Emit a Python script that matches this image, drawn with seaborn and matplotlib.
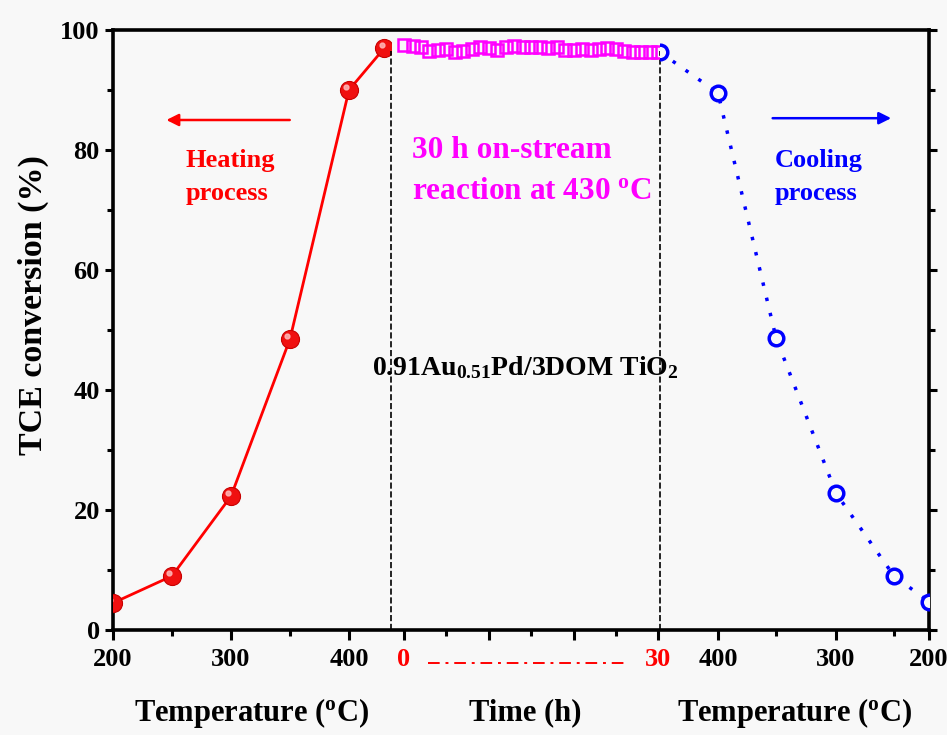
import numpy as np
import matplotlib
matplotlib.use("Agg")
import matplotlib.pyplot as plt
import matplotlib.transforms as mtransforms
import seaborn as sns

# heating ramp (light-off)
heat_temp = [200, 250, 300, 350, 400, 430]
heat_conv = [4.5, 9.0, 22.3, 48.5, 90.0, 97.0]

# 30 h on-stream at 430 C
time_h = list(range(0, 31))
time_conv = [97.5, 97.4, 97.2, 96.5, 96.7, 96.9, 96.4, 96.5, 96.8, 97.1,
             97.0, 96.6, 97.2, 97.3, 97.2, 97.1, 97.2, 97.0, 97.2, 96.7,
             96.6, 96.9, 96.6, 96.9, 97.0, 96.8, 96.5, 96.4, 96.3, 96.4, 96.3]

# cooling ramp
cool_temp = [430, 400, 350, 300, 250, 200]
cool_conv = [96.3, 89.5, 48.7, 22.8, 9.0, 4.7]

heat_ticks = [200, 300, 400]
time_ticks = [0, 30]
cool_ticks = [400, 300, 200]

sns.set_style("ticks")
plt.rcParams['font.family'] = ['Liberation Serif', 'DejaVu Serif']
plt.rcParams['font.weight'] = 'bold'
plt.rcParams['mathtext.fontset'] = 'custom'
plt.rcParams['mathtext.rm'] = 'Liberation Serif:bold'
plt.rcParams['mathtext.bf'] = 'Liberation Serif:bold'
plt.rcParams['mathtext.it'] = 'Liberation Serif:bold'
for key in ('text.color', 'axes.labelcolor', 'xtick.color', 'ytick.color', 'axes.edgecolor'):
    plt.rcParams[key] = 'black'

W, H = 947, 735
BG = '#f8f8f8'
fig = plt.figure(figsize=(W / 100, H / 100), dpi=100, facecolor=BG)


def rect(x0, x1):
    return [x0 / W, 1 - 630 / H, (x1 - x0) / W, 600 / H]


frame = fig.add_axes(rect(113, 929))
ax_h = fig.add_axes(rect(113, 391))
ax_t = fig.add_axes(rect(391, 660))
ax_c = fig.add_axes(rect(660, 929))

# frame: y axis and the box
frame.set_facecolor('none')
frame.set_ylim(0, 100)
frame.set_xticks([])
frame.set_yticks(range(0, 101, 20))
frame.set_yticks(range(10, 100, 20), minor=True)
frame.tick_params(axis='y', which='both', left=True, right=True,
                  labelright=False, direction='out', width=2.2, labelsize=19)
frame.tick_params(axis='y', which='major', length=6)
frame.tick_params(axis='y', which='minor', length=4)
for s in frame.spines.values():
    s.set_linewidth(2.6)
frame.set_ylabel('TCE conversion (%)', fontsize=24.5, fontweight='bold')
frame.yaxis.set_label_coords(-0.079, 0.542)

# cooling axis in the original is drawn unevenly; keep its tick spacing
cool_knots_t = [200, 250, 300, 350, 400, 430]
cool_knots_px = [0, 35, 93, 153, 211, 269]


def cool_fwd(t):
    return np.interp(t, cool_knots_t, cool_knots_px)


def cool_inv(p):
    return np.interp(p, cool_knots_px, cool_knots_t)


ax_c.set_xscale('function', functions=(cool_fwd, cool_inv))

for ax in (ax_h, ax_t, ax_c):
    ax.set_facecolor('none')
    ax.set_ylim(0, 100)
    ax.set_yticks([])
    for s in ax.spines.values():
        s.set_visible(False)
    ax.tick_params(axis='x', which='both', direction='out', width=2.2,
                   labelsize=19, pad=6)
    ax.tick_params(axis='x', which='major', length=7)
    ax.tick_params(axis='x', which='minor', length=4)

ax_h.set_xlim(200, 435.6)
ax_t.set_xlim(-1.54, 30.2)
ax_c.set_xlim(430, 200)

ax_h.set_xticks(heat_ticks)
ax_h.set_xticks([250, 350], minor=True)
ax_t.set_xticks([0, 10, 20, 30])
ax_t.set_xticklabels(['0', '', '', '30'], color='red')
ax_t.set_xticks([5, 15, 25], minor=True)
ax_c.set_xticks(cool_ticks)
ax_c.set_xticks([350, 250], minor=True)

xlabels = ['Temperature ($^{\\mathrm{o}}$C)', 'Time (h)', 'Temperature ($^{\\mathrm{o}}$C)']
for ax, lab in zip((ax_h, ax_t, ax_c), xlabels):
    ax.set_xlabel(lab, fontsize=22, fontweight='bold', va='center')
    ax.xaxis.set_label_coords(0.5, -0.138)

# data
sns.lineplot(x=heat_temp, y=heat_conv, ax=ax_h, color='#ff0000', lw=2,
             marker='o', markersize=13, markerfacecolor='#f01010',
             markeredgecolor='#c80000', markeredgewidth=0.8, sort=False)
shine = mtransforms.offset_copy(ax_h.transData, fig=fig, x=-2, y=2, units='points')
ax_h.plot(heat_temp, heat_conv, lw=0, marker='o', markersize=3.5,
          color='#ffb8b8', alpha=0.85, transform=shine)

sns.lineplot(x=time_h, y=time_conv, ax=ax_t, lw=0, marker='s', markersize=9,
             markerfacecolor='none', markeredgecolor='#ff00ff',
             markeredgewidth=1.8, sort=False)

sns.lineplot(x=cool_temp, y=cool_conv, ax=ax_c, color='#0000ff', lw=2.5,
             linestyle=(0, (1, 3.5)), marker='o', markersize=10.5,
             markerfacecolor=BG, markeredgecolor='#0000ff',
             markeredgewidth=2.5, sort=False)

# boundaries of the on-stream window
ax_t.vlines(ax_t.get_xlim(), 0, 96.5, colors='black', linestyles='--', lw=1.2,
            clip_on=False, zorder=0)

# red dash-dot span between the time labels
ax_t.plot([time_ticks[0] + 2.8, time_ticks[1] - 4], [-0.055, -0.055],
          transform=ax_t.get_xaxis_transform(), color='red', lw=1.4,
          ls=(0, (6, 3, 1.5, 3)), clip_on=False)

# annotations
txt = dict(fontweight='bold', transform=frame.transAxes, linespacing=1.55)
frame.annotate('', xy=(0.062, 0.85), xytext=(0.220, 0.85), xycoords='axes fraction',
               arrowprops=dict(arrowstyle='-|>', color='red', lw=1.8,
                               mutation_scale=18))
frame.text(0.089, 0.755, 'Heating\nprocess', color='red', fontsize=19,
           ha='left', va='center', **txt)
frame.text(0.366, 0.765, '30 h on-stream\nreaction at 430 $^{\\mathrm{o}}$C',
           color='#ff00ff', fontsize=22.5, ha='left', va='center', **txt)
frame.annotate('', xy=(0.957, 0.853), xytext=(0.805, 0.853), xycoords='axes fraction',
               arrowprops=dict(arrowstyle='-|>', color='#0000ff', lw=1.8,
                               mutation_scale=18))
frame.text(0.811, 0.755, 'Cooling\nprocess', color='#0000ff', fontsize=19,
           ha='left', va='center', **txt)
frame.text(0.505, 0.437, '0.91Au$_{\\mathrm{0.51}}$Pd/3DOM TiO$_{\\mathrm{2}}$',
           color='black', fontsize=20, ha='center', va='center', **txt)

fig.savefig('out.png', dpi=100, facecolor=BG)
